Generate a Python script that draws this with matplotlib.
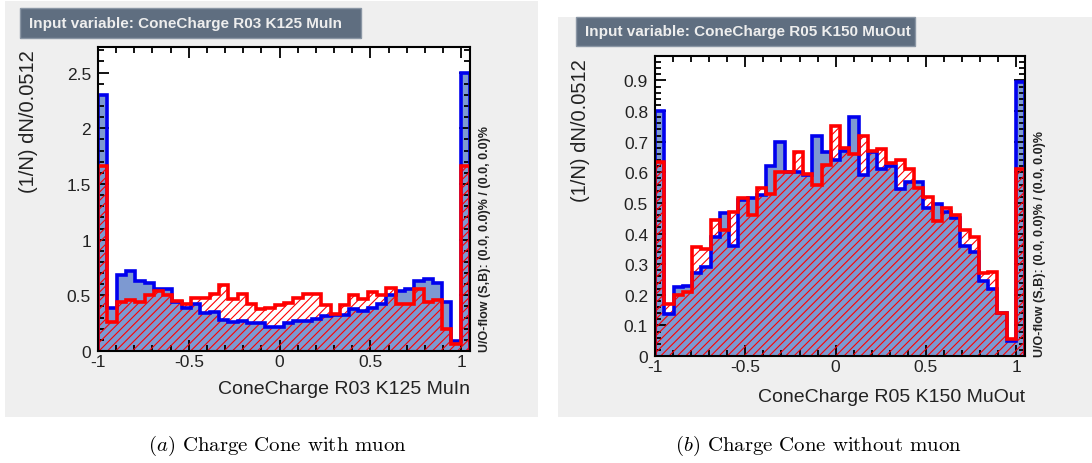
import numpy as np
import matplotlib
matplotlib.use("Agg")
import matplotlib.pyplot as plt
from matplotlib.patches import Rectangle
from matplotlib.ticker import MultipleLocator, FuncFormatter

plt.rcParams['font.family'] = ['Liberation Sans', 'DejaVu Sans']
plt.rcParams['mathtext.fontset'] = 'cm'
plt.rcParams['hatch.linewidth'] = 0.8

# 40 bins of width 0.0512 starting at -1
edges = -1 + 0.0512 * np.arange(41)

# ConeCharge R03 K125 MuIn (with muon)
sig_in = [2.30, 0.39, 0.68, 0.72, 0.63, 0.61, 0.56, 0.56, 0.44, 0.39,
          0.42, 0.34, 0.35, 0.28, 0.26, 0.27, 0.25, 0.25, 0.22, 0.22,
          0.25, 0.27, 0.27, 0.29, 0.31, 0.32, 0.32, 0.38, 0.36, 0.39,
          0.42, 0.50, 0.54, 0.56, 0.63, 0.65, 0.61, 0.44, 0.09, 2.50]
bkg_in = [1.66, 0.26, 0.44, 0.46, 0.44, 0.50, 0.54, 0.50, 0.45, 0.42,
          0.48, 0.48, 0.51, 0.59, 0.47, 0.51, 0.42, 0.38, 0.39, 0.41,
          0.43, 0.48, 0.51, 0.51, 0.41, 0.33, 0.41, 0.50, 0.47, 0.53,
          0.50, 0.57, 0.42, 0.42, 0.56, 0.44, 0.46, 0.20, 0.06, 1.66]

# ConeCharge R05 K150 MuOut (without muon)
sig_out = [0.80, 0.136, 0.227, 0.23, 0.27, 0.29, 0.39, 0.466, 0.36, 0.51,
           0.515, 0.525, 0.62, 0.70, 0.60, 0.60, 0.59, 0.72, 0.665, 0.64,
           0.67, 0.78, 0.59, 0.665, 0.61, 0.62, 0.545, 0.57, 0.57, 0.485,
           0.495, 0.47, 0.45, 0.36, 0.34, 0.245, 0.22, 0.14, 0.05, 0.895]
bkg_out = [0.635, 0.17, 0.20, 0.21, 0.355, 0.35, 0.445, 0.41, 0.47, 0.515,
           0.46, 0.55, 0.53, 0.60, 0.60, 0.665, 0.595, 0.56, 0.625, 0.75,
           0.68, 0.66, 0.72, 0.67, 0.675, 0.63, 0.64, 0.61, 0.55, 0.52,
           0.44, 0.485, 0.46, 0.41, 0.39, 0.27, 0.275, 0.14, 0.055, 0.61]

W, H = 1092, 464
fig = plt.figure(figsize=(W / 100, H / 100), dpi=100)


def px_box(x0, y0, x1, y1):
    # pixel box (top-left origin) -> figure fraction rectangle
    return [x0 / W, 1 - y1 / H, (x1 - x0) / W, (y1 - y0) / H]


def fmt(v, pos):
    return '%g' % round(v, 3)


panels = [
    dict(bg=(5, 2, 538, 418), title_box=(20, 9, 361, 39), frame=(98, 48, 470, 352),
         ylim=2.73, ymajor=0.5, yminor=0.1, sig=sig_in, bkg=bkg_in,
         title='Input variable: ConeCharge R03 K125 MuIn',
         xlabel='ConeCharge R03 K125 MuIn', xlab_y=390, ylab_x=28,
         caption=r'$\mathit{(a)}$ Charge Cone with muon', cap_x=277),
    dict(bg=(558, 18, 1092, 418), title_box=(576, 18, 915, 47), frame=(655, 57, 1025, 357),
         ylim=0.98, ymajor=0.1, yminor=0.02, sig=sig_out, bkg=bkg_out,
         title='Input variable: ConeCharge R05 K150 MuOut',
         xlabel='ConeCharge R05 K150 MuOut', xlab_y=397, ylab_x=581,
         caption=r'$\mathit{(b)}$ Charge Cone without muon', cap_x=818),
]

for p in panels:
    # light grey canvas and title box
    bx = px_box(*p['bg'])
    fig.patches.append(Rectangle(bx[:2], bx[2], bx[3], transform=fig.transFigure,
                                 facecolor='#efefef', edgecolor='none', zorder=-10))
    tb = px_box(*p['title_box'])
    fig.patches.append(Rectangle(tb[:2], tb[2], tb[3], transform=fig.transFigure,
                                 facecolor='#5f6e80', edgecolor='#8a96a4', lw=1, zorder=-5))
    fig.text(tb[0] + 9 / W, tb[1] + tb[3] / 2, p['title'], color='#eeeeee',
             fontsize=11, fontweight='bold', va='center', ha='left')

    ax = fig.add_axes(px_box(*p['frame']))
    ax.set_facecolor('white')

    # signal: filled blue, background: red hatched
    ax.stairs(p['sig'], edges, baseline=0, fill=True, facecolor='#7d99d1',
              edgecolor='none', linewidth=0, zorder=1)
    ax.stairs(p['bkg'], edges, baseline=0, fill=True, facecolor='none',
              edgecolor='#ff0000', hatch='////', linewidth=0, zorder=2)
    ax.stairs(p['sig'], edges, baseline=0, color='#0000ee', linewidth=2.6, zorder=3)
    ax.stairs(p['bkg'], edges, baseline=0, color='#ff0000', linewidth=2.6, zorder=4)

    ax.set_xlim(edges[0], edges[-1])
    ax.set_ylim(0, p['ylim'])
    ax.xaxis.set_major_locator(MultipleLocator(0.5))
    ax.xaxis.set_minor_locator(MultipleLocator(0.1))
    ax.yaxis.set_major_locator(MultipleLocator(p['ymajor']))
    ax.yaxis.set_minor_locator(MultipleLocator(p['yminor']))
    ax.xaxis.set_major_formatter(FuncFormatter(fmt))
    ax.yaxis.set_major_formatter(FuncFormatter(fmt))
    ax.tick_params(which='both', direction='in', top=True, right=True,
                   width=1.3, colors='black', labelcolor='#222222', labelsize=12.5)
    ax.tick_params(which='major', length=8)
    ax.tick_params(which='minor', length=4)
    ax.tick_params(axis='x', which='major', pad=2)
    ax.tick_params(axis='y', which='major', pad=5)
    for s in ax.spines.values():
        s.set_linewidth(1.5)
        s.set_zorder(6)

    fr = p['frame']
    fig.text(fr[2] / W, 1 - p['xlab_y'] / H, p['xlabel'], fontsize=14,
             ha='right', va='center', color='#222222')
    fig.text(p['ylab_x'] / W, 1 - (fr[1] + 2) / H, '(1/N) dN/0.0512', fontsize=14.5,
             rotation=90, ha='center', va='top', color='#222222')
    fig.text((fr[2] + 15) / W, 1 - fr[3] / H,
             'U/O-flow (S,B): (0.0, 0.0)% / (0.0, 0.0)%', fontsize=9,
             fontweight='bold', rotation=90, ha='center', va='bottom', color='#222222')

    fig.text(p['cap_x'] / W, 1 - 446 / H, p['caption'], family='cmr10',
             fontsize=15, ha='center', va='center')

fig.savefig('out.png', dpi=100, facecolor='white')
